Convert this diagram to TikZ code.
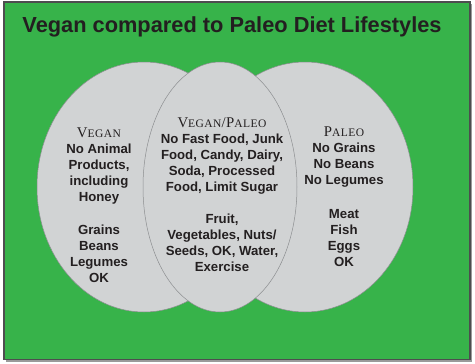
\documentclass[tikz,border=0pt]{standalone}
\usepackage{fontspec}
\newfontfamily\arialf{Liberation Sans}
\newfontfamily\seriff[LetterSpace=4]{Liberation Serif}
\definecolor{bggreen}{HTML}{37B34A}
\definecolor{ellgray}{HTML}{D1D3D4}
\definecolor{ellline}{HTML}{8C8E90}
\definecolor{framec}{HTML}{4D4D4F}
\definecolor{shadowc}{HTML}{9A9A9A}
\definecolor{inkc}{HTML}{231F20}
\newcommand{\hdbig}{\seriff\mdseries\fontsize{14.8}{16}\selectfont}
\newcommand{\hdsmall}{\seriff\mdseries\fontsize{11.5}{16}\selectfont}
\newcommand{\hdword}[2]{{\hdbig #1}{\hdsmall #2}}
\begin{document}
\begin{tikzpicture}[x=1pt,y=-1pt,
  ellfill/.style={fill=ellgray,draw=ellline,line width=0.5pt},
  bodytext/.style={align=center,text=inkc,inner sep=0pt,
    font=\arialf\bfseries\fontsize{13.2}{16}\selectfont},
  titletext/.style={text=inkc,inner sep=0pt,anchor=base,
    font=\arialf\bfseries\fontsize{21.8}{24}\selectfont}]
\useasboundingbox (0,0) rectangle (475,364);
% frame with shadow
\fill[shadowc] (5.5,3.5) rectangle (472,362);
\fill[bggreen,draw=framec,line width=1.1pt] (4,2) rectangle (470,359.5);
% ellipses
\path[ellfill] (144,187) ellipse [x radius=107pt, y radius=125pt];
\path[ellfill] (305,187) ellipse [x radius=108pt, y radius=125pt];
\path[ellfill] (220,187) ellipse [x radius=77pt, y radius=125pt];
% title
\node[titletext] (title) at (232,32.3) {Vegan compared to Paleo Diet Lifestyles};
% texts
\node[bodytext] (vegan) at (99,205.5) {\hdword{V}{EGAN}\\No Animal\\Products,\\including\\Honey\\[17pt]Grains\\Beans\\Legumes\\OK};
\node[bodytext] (both) at (222,194.5) {\hdword{V}{EGAN}{\hdbig/}\hdword{P}{ALEO}\\No Fast Food, Junk\\Food, Candy, Dairy,\\Soda, Processed\\Food, Limit Sugar\\[16pt]Fruit,\\Vegetables, Nuts/\\Seeds, OK, Water,\\Exercise};
\node[bodytext] (paleo) at (344,197) {\hdword{P}{ALEO}\\No Grains\\No Beans\\No Legumes\\[18pt]Meat\\Fish\\Eggs\\OK};
\end{tikzpicture}
\end{document}
